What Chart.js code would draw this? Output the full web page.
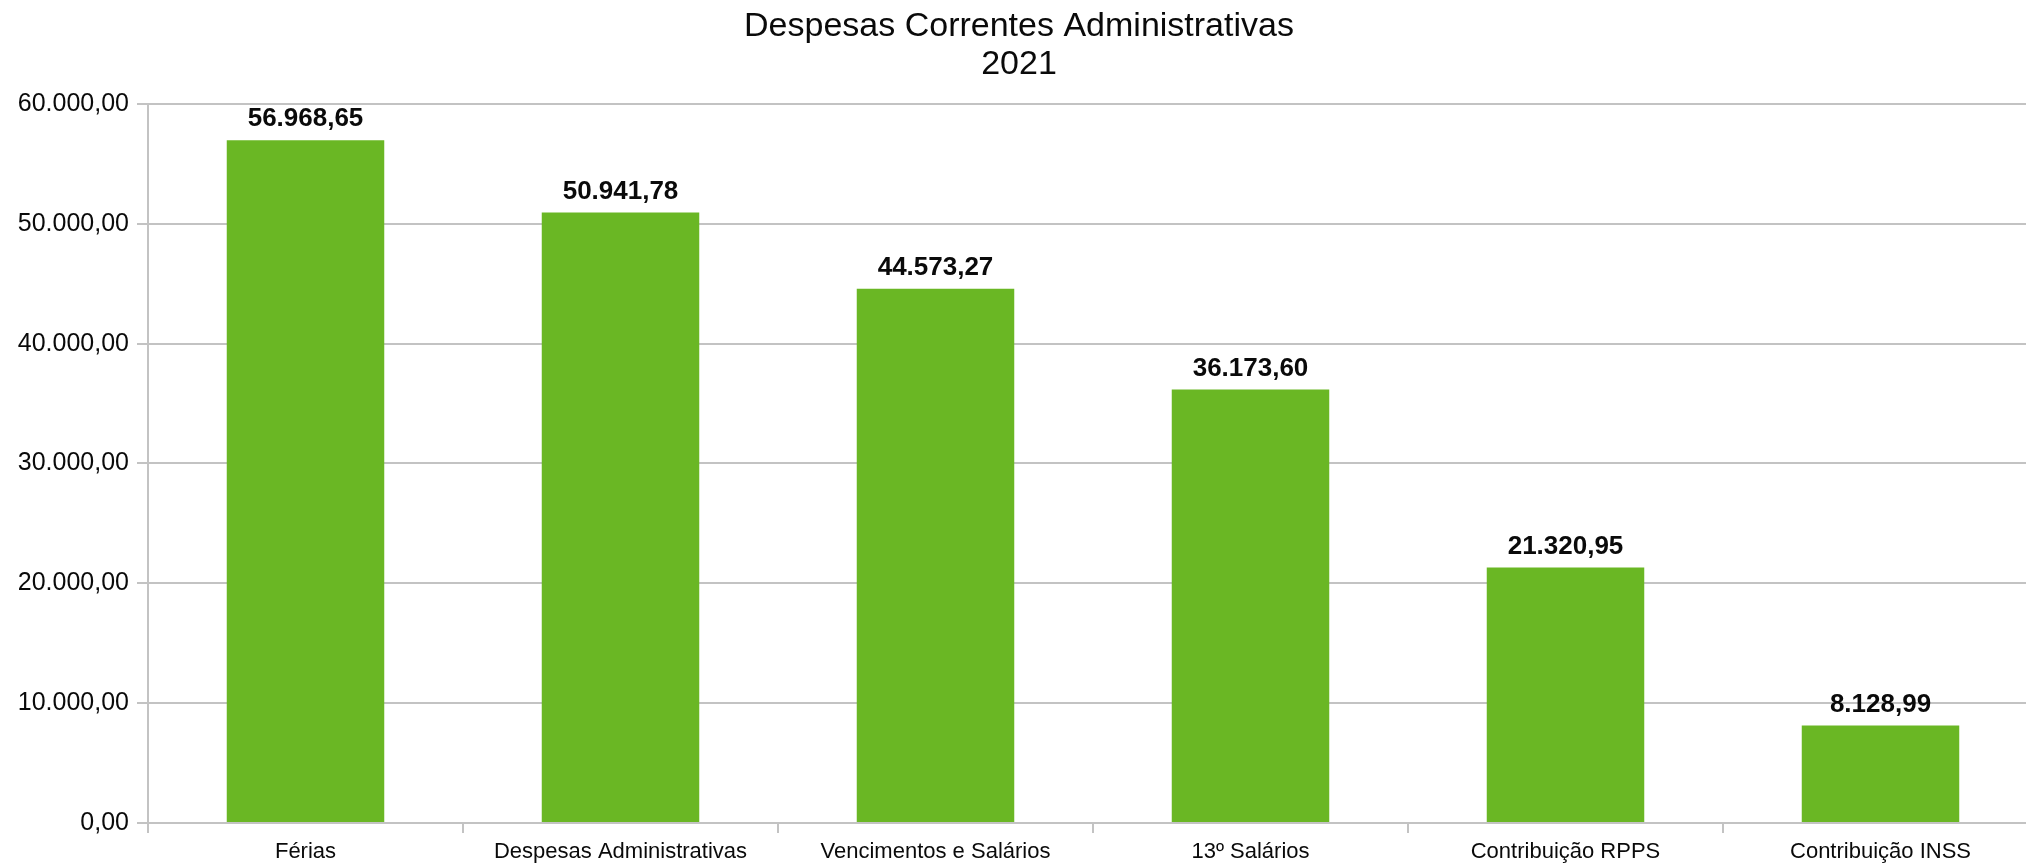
<!DOCTYPE html>
<html>
<head>
<meta charset="utf-8">
<title>Despesas Correntes Administrativas 2021</title>
<script src="https://cdn.jsdelivr.net/npm/chart.js@4"></script>
<style>
  html, body { margin: 0; padding: 0; background: #fff; overflow: hidden; }
  #wrap { width: 2026px; height: 866px; overflow: hidden; }
</style>
</head>
<body>
<div id="wrap"><canvas id="myChart" width="2038" height="866"></canvas></div>
<script>
const categorias = [
  'Férias',
  'Despesas Administrativas',
  'Vencimentos e Salários',
  '13º Salários',
  'Contribuição RPPS',
  'Contribuição INSS'
];

const valores = [56968.65, 50941.78, 44573.27, 36173.60, 21320.95, 8128.99];

const ticksY = [0, 10000, 20000, 30000, 40000, 50000, 60000];

const titulo = ['Despesas Correntes Administrativas', '2021'];

// formato brasileiro: 56.968,65
function formatoBR(v) {
  var partes = Math.abs(v).toFixed(2).split('.');
  var inteiro = partes[0].replace(/\B(?=(\d{3})+(?!\d))/g, '.');
  return (v < 0 ? '-' : '') + inteiro + ',' + partes[1];
}

const fonte = "'Liberation Sans', Arial, sans-serif";
const cinza = '#c3c3c3';

// rotulos em cima das barras
const rotulos = {
  id: 'rotulos',
  afterDatasetsDraw(chart) {
    const ctx = chart.ctx;
    const meta = chart.getDatasetMeta(0);
    ctx.save();
    ctx.font = 'bold 26px ' + fonte;
    ctx.fillStyle = '#0a0a0a';
    ctx.textAlign = 'center';
    ctx.textBaseline = 'alphabetic';
    meta.data.forEach(function (bar, i) {
      ctx.fillText(formatoBR(valores[i]), bar.x, bar.y - 14);
    });
    ctx.restore();
  }
};

const data = {
  labels: categorias,
  datasets: [{
    label: titulo[0],
    data: valores,
    backgroundColor: '#6ab724',
    borderWidth: 0,
    categoryPercentage: 1.0,
    barPercentage: 0.5
  }]
};

const config = {
  type: 'bar',
  data,
  options: {
    responsive: false,
    animation: false,
    layout: { padding: 0 },
    plugins: {
      legend: { display: false },
      tooltip: { enabled: false },
      title: {
        display: true,
        text: titulo,
        color: '#0a0a0a',
        font: { family: fonte, size: 34, weight: 'normal', lineHeight: 1.1176 },
        padding: { top: 8, bottom: 20 }
      }
    },
    scales: {
      x: {
        grid: {
          display: true,
          drawOnChartArea: false,
          offset: true,
          color: cinza,
          lineWidth: 2,
          tickLength: 10
        },
        border: { display: true, color: cinza, width: 2 },
        ticks: {
          color: '#0a0a0a',
          font: { family: fonte, size: 22 },
          padding: 6,
          maxRotation: 0,
          autoSkip: false
        },
        afterFit: function (scale) { scale.height = 43; }
      },
      y: {
        min: 0,
        max: 60000,
        afterBuildTicks: function (scale) {
          scale.ticks = ticksY.map(function (v) { return { value: v }; });
        },
        grid: { color: cinza, lineWidth: 2, tickLength: 11 },
        border: { display: true, color: cinza, width: 2 },
        ticks: {
          color: '#0a0a0a',
          font: { family: fonte, size: 25 },
          padding: 8,
          callback: function (v) { return formatoBR(v); }
        },
        afterFit: function (scale) { scale.width = 148; }
      }
    }
  },
  plugins: [rotulos]
};

var myChart = new Chart(document.getElementById('myChart'), config);
</script>
</body>
</html>
